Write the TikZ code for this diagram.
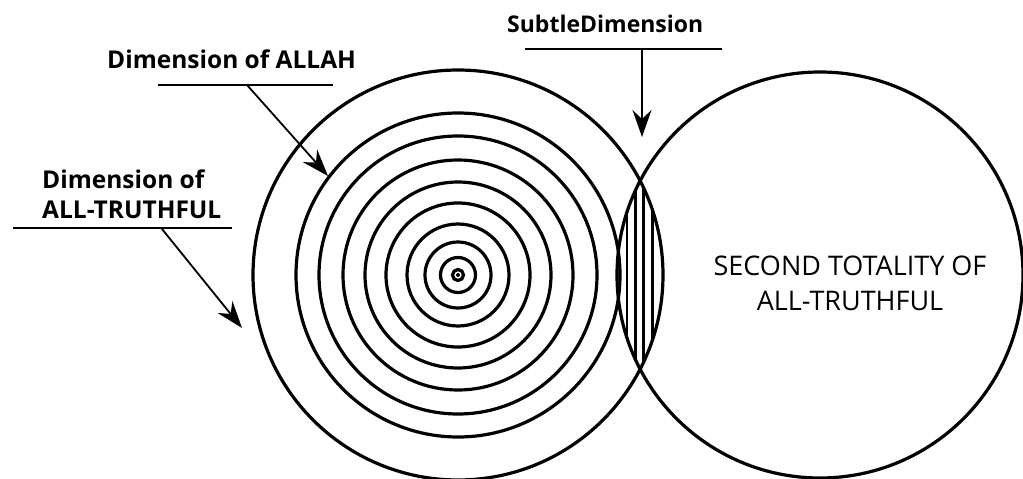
\documentclass[tikz,border=0pt]{standalone}
\usepackage{fontspec}
\setmainfont{Open Sans}
\usetikzlibrary{arrows.meta}
\begin{document}
\begin{tikzpicture}[x=1pt,y=-1pt,
  ring/.style={line width=3.2pt},
  hatch/.style={line width=2.8pt},
  uline/.style={line width=1.5pt},
  pointer/.style={line width=1.8pt,-{Stealth[length=27pt,width=19pt,inset=9pt]}},
  boldlabel/.style={font=\fontsize{24.5}{30}\selectfont\bfseries,inner sep=0pt,align=left},
  plainlabel/.style={font=\fontsize{27}{35}\selectfont,inner sep=0pt,align=center}]
\useasboundingbox (0,0) rectangle (1023,479);
% centres
\coordinate (L) at (458,275);
\coordinate (R) at (820,275);
% outer circles
\draw[ring] (L) circle[radius=205pt];
\draw[ring] (R) circle[radius=203pt];
% concentric rings
\foreach \r in {162,139,115,93,72,51,33,17.5,5.5}
  \draw[ring] (L) circle[radius=\r pt];
\fill (L) circle[radius=2pt];
% hatched lens
\begin{scope}
  \clip (L) circle[radius=205pt];
  \clip (R) circle[radius=203pt];
  \foreach \x in {627,635.5,643.5,652.5}
    \draw[hatch] (\x,150) -- (\x,400);
\end{scope}
% labels
\node[boldlabel,anchor=base west] (allah) at (107,68) {Dimension of ALLAH};
\coordinate (allahA) at (158,85);
\coordinate (allahB) at (333,85);
\coordinate (allahS) at (247,85);
\coordinate (allahT) at (328,176);
\draw[uline] (allahA) -- (allahB);
\draw[pointer] (allahS) -- (allahT);

\node[boldlabel,anchor=base west] (truth) at (42,218) {Dimension of\\ALL-TRUTHFUL};
\coordinate (truthA) at (13,228);
\coordinate (truthB) at (232,228);
\coordinate (truthS) at (162,229);
\coordinate (truthT) at (242,328);
\draw[uline] (truthA) -- (truthB);
\draw[pointer] (truthS) -- (truthT);

\node[boldlabel,font=\fontsize{23}{30}\selectfont\bfseries,anchor=base west] (subtle) at (507,32) {SubtleDimension};
\coordinate (subA) at (525,49);
\coordinate (subB) at (722,49);
\coordinate (subS) at (642,49);
\coordinate (subT) at (642,137);
\draw[uline] (subA) -- (subB);
\draw[pointer] (subS) -- (subT);

\node[plainlabel,anchor=base] (second) at (850,310) {SECOND TOTALITY OF\\ALL-TRUTHFUL};
\end{tikzpicture}
\end{document}
